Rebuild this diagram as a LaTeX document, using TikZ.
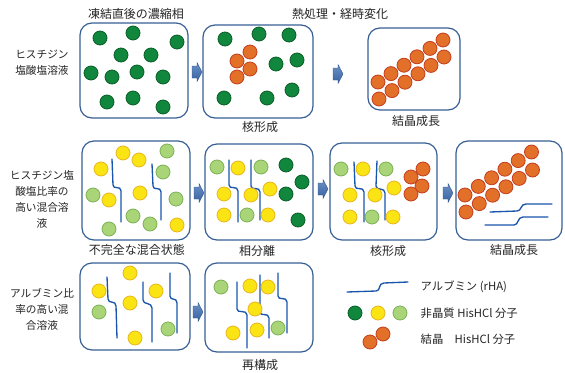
\documentclass[tikz,border=0pt]{standalone}
\usepackage{fontspec}
\setmainfont{Noto Sans CJK JP}
\usepackage{tikz}

\definecolor{vesselblue}{RGB}{55,95,150}
\definecolor{rhablue}{RGB}{25,85,170}
\definecolor{arrowblue}{RGB}{60,108,178}
\definecolor{greenfill}{RGB}{16,135,60}
\definecolor{greenline}{RGB}{10,95,40}
\definecolor{yellowfill}{RGB}{250,228,20}
\definecolor{yellowline}{RGB}{232,182,30}
\definecolor{limefill}{RGB}{170,212,120}
\definecolor{limeline}{RGB}{122,178,84}
\definecolor{orangefill}{RGB}{226,112,40}
\definecolor{orangeline}{RGB}{195,62,30}
\definecolor{inktext}{RGB}{35,35,35}

\begin{document}
\begin{tikzpicture}[x=0.75pt,y=0.75pt,yscale=-1,xscale=1,
	vessel/.style={draw=vesselblue, line width=0.9pt, rounded corners=9pt},
	rha/.style={draw=rhablue, line width=1pt, line cap=round},
	amgreen/.style={fill=greenfill, draw=greenline, line width=0.6pt},
	amyellow/.style={fill=yellowfill, draw=yellowline, line width=0.6pt},
	amlime/.style={fill=limefill, draw=limeline, line width=0.6pt},
	crystal/.style={fill=orangefill, draw=orangeline, line width=0.6pt},
	flowarrow/.style={draw=arrowblue!80!black, line width=0.3pt, top color=arrowblue!75, bottom color=arrowblue!90!black},
	caption/.style={font=\fontsize{9}{11}\selectfont, text=inktext},
	rowlabel/.style={font=\fontsize{8}{12}\selectfont, text=inktext, align=center},
	legendtext/.style={font=\fontsize{8.5}{10}\selectfont, text=inktext, anchor=west}]
	%set diagram left start at 0, and has height of 372
	\useasboundingbox (0,0) rectangle (565,372);

	% ---------------- row 1 ----------------
	%Text Node
	\node[caption] (ttlfrozen) at (136,14) {凍結直後の濃縮相};
	\node[caption] (ttlheat) at (340,14) {熱処理・経時変化};
	\node[rowlabel] (lblhis) at (42,63) {ヒスチジン\\塩酸塩溶液};
	%Shape: Rounded Rect
	\draw[vessel] (80,23) rectangle (188,118);
	\draw[vessel] (203,25) rectangle (313,118);
	\draw[vessel] (368,28) rectangle (460,110);
	%Shape: Circle
	\foreach \p in {(100,38),(133,33),(177,42),(121,55),(151,55),(91,73),(112,77),(137,72),(163,77),(107,102),(133,98),(163,107)}
		\draw[amgreen] \p circle (7);
	\foreach \p in {(225,39),(259,34),(289,35),(276,64),(297,60),(292,90),(224,98),(267,98)}
		\draw[amgreen] \p circle (7);
	\foreach \p in {(250,52),(237,61),(250,69),(237,77)}
		\draw[crystal] \p circle (7);
	\foreach \i in {0,...,5} {
		\draw[crystal] (378+13*\i,82-8.4*\i) circle (7);
		\draw[crystal] (379+13*\i,99-8.4*\i) circle (7);
	}
	%Right Arrow
	\draw[flowarrow, shift={(192,72)}] (0,-6) -- (5,-6) -- (5,-9.5) -- (10,0) -- (5,9.5) -- (5,6) -- (0,6) -- cycle;
	\draw[flowarrow, shift={(333,74)}] (0,-6) -- (5,-6) -- (5,-9.5) -- (10,0) -- (5,9.5) -- (5,6) -- (0,6) -- cycle;
	%Text Node
	\node[caption] (capnuc1) at (260,127) {核形成};
	\node[caption] (capgrow1) at (416,121) {結晶成長};

	% ---------------- row 2 ----------------
	\node[rowlabel] (lblmixhis) at (42,199) {ヒスチジン塩\\酸塩比率の\\高い混合溶\\液};
	%Shape: Rounded Rect
	\draw[vessel] (82,141) rectangle (190,240);
	\draw[vessel] (205,144) rectangle (313,240);
	\draw[vessel] (330,143) rectangle (437,240);
	\draw[vessel] (456,141) rectangle (562,240);
	%Curve Lines
	\draw[rha] (112,159) -- (113,185) .. controls (113,190) and (121,185) .. (121,191) -- (121,222);
	\draw[rha] (152,164) -- (153,186) .. controls (153,191) and (161,186) .. (161,192) -- (161,220);
	\draw[rha] (229,160) -- (229,185) .. controls (229,190) and (238,185) .. (238,191) -- (238,222);
	\draw[rha] (251,160) -- (251,186) .. controls (251,191) and (260,186) .. (260,192) -- (260,220);
	\draw[rha] (354,162) -- (355,186) .. controls (355,191) and (364,186) .. (364,192) -- (364,222);
	\draw[rha] (377,161) -- (376,186) .. controls (376,191) and (385,187) .. (385,193) -- (385,220);
	\draw[rha] (490,212) -- (517,211) .. controls (522,211) and (520,204) .. (526,204) -- (552,204);
	\draw[rha] (485,225) -- (514,225) .. controls (519,225) and (517,217) .. (523,217) -- (548,217);
	%Shape: Circle
	\foreach \p in {(123,153),(139,160),(101,169),(140,193),(109,200),(177,225)}
		\draw[amyellow] \p circle (7);
	\foreach \p in {(167,151),(163,172),(93,195),(176,199),(133,216),(150,224),(109,229)}
		\draw[amlime] \p circle (7);
	\foreach \p in {(217,167),(261,167),(247,215)}
		\draw[amlime] \p circle (7);
	\foreach \p in {(238,168),(224,194),(251,195),(270,189),(224,215),(268,215)}
		\draw[amyellow] \p circle (7);
	\foreach \p in {(286,165),(302,182),(286,194),(298,220)}
		\draw[amgreen] \p circle (7);
	\foreach \p in {(341,169),(386,169),(372,217)}
		\draw[amlime] \p circle (7);
	\foreach \p in {(363,169),(350,195),(375,195),(394,188),(350,217),(393,217)}
		\draw[amyellow] \p circle (7);
	\foreach \p in {(423,169),(411,177),(422,186),(411,194)}
		\draw[crystal] \p circle (7);
	\foreach \i in {0,...,5} {
		\draw[crystal] (465+13.3*\i,195-8.6*\i) circle (7);
		\draw[crystal] (466+13.3*\i,212-8.4*\i) circle (7);
	}
	%Right Arrow
	\draw[flowarrow, shift={(194,193)}] (0,-6) -- (5,-6) -- (5,-9.5) -- (10,0) -- (5,9.5) -- (5,6) -- (0,6) -- cycle;
	\draw[flowarrow, shift={(318,189)}] (0,-6) -- (5,-6) -- (5,-9.5) -- (10,0) -- (5,9.5) -- (5,6) -- (0,6) -- cycle;
	\draw[flowarrow, shift={(443,193)}] (0,-6) -- (5,-6) -- (5,-9.5) -- (10,0) -- (5,9.5) -- (5,6) -- (0,6) -- cycle;
	%Text Node
	\node[caption] (capmix) at (137,250) {不完全な混合状態};
	\node[caption] (capsep) at (257,251) {相分離};
	\node[caption] (capnuc2) at (388,251) {核形成};
	\node[caption] (capgrow2) at (514,250) {結晶成長};

	% ---------------- row 3 ----------------
	\node[rowlabel] (lblmixalb) at (42,309) {アルブミン比\\率の高い混\\合溶液};
	%Shape: Rounded Rect
	\draw[vessel] (80,263) rectangle (190,350);
	\draw[vessel] (205,263) rectangle (313,352);
	%Curve Lines
	\draw[rha] (107,277) -- (108,299) .. controls (108,304) and (116,300) .. (116,306) -- (117,338);
	\draw[rha] (143,282) -- (143,300) .. controls (143,305) and (152,302) .. (152,308) -- (152,342);
	\draw[rha] (170,273) -- (170,296) .. controls (170,301) and (177,297) .. (177,303) -- (177,333);
	\draw[rha] (237,282) -- (237,309) .. controls (237,314) and (247,309) .. (247,315) -- (247,348);
	\draw[rha] (260,275) -- (260,312) .. controls (260,317) and (269,312) .. (269,318) -- (269,338);
	\draw[rha] (278,273) -- (278,296) .. controls (278,301) and (287,296) .. (287,302) -- (287,333);
	%Shape: Circle
	\foreach \p in {(130,273),(99,291),(156,291),(130,303),(135,338)}
		\draw[amyellow] \p circle (7);
	\foreach \p in {(99,312),(168,329)}
		\draw[amlime] \p circle (7);
	\foreach \p in {(221,287),(278,328)}
		\draw[amlime] \p circle (7);
	\foreach \p in {(250,286),(268,287),(255,309),(233,333),(257,330)}
		\draw[amyellow] \p circle (7);
	%Right Arrow
	\draw[flowarrow, shift={(193,312)}] (0,-6) -- (5,-6) -- (5,-9.5) -- (10,0) -- (5,9.5) -- (5,6) -- (0,6) -- cycle;
	%Text Node
	\node[caption] (caprebuild) at (260,365) {再構成};

	% ---------------- legend ----------------
	\draw[rha] (347,292) -- (376,291) .. controls (381,291) and (378,283) .. (384,283) -- (408,282);
	\node[legendtext] (legrha) at (416,287) {アルブミン (rHA)};
	\draw[amgreen] (355,313) circle (7);
	\draw[amyellow] (378,313) circle (7);
	\draw[amlime] (400,313) circle (7);
	\node[legendtext] (legamorph) at (416,313) {非晶質 HisHCl 分子};
	\draw[crystal] (370,342) circle (7);
	\draw[crystal] (383,334) circle (7);
	\node[legendtext] (legcrystal) at (416,339) {結晶\hspace{1em}HisHCl 分子};

\end{tikzpicture}
\end{document}
